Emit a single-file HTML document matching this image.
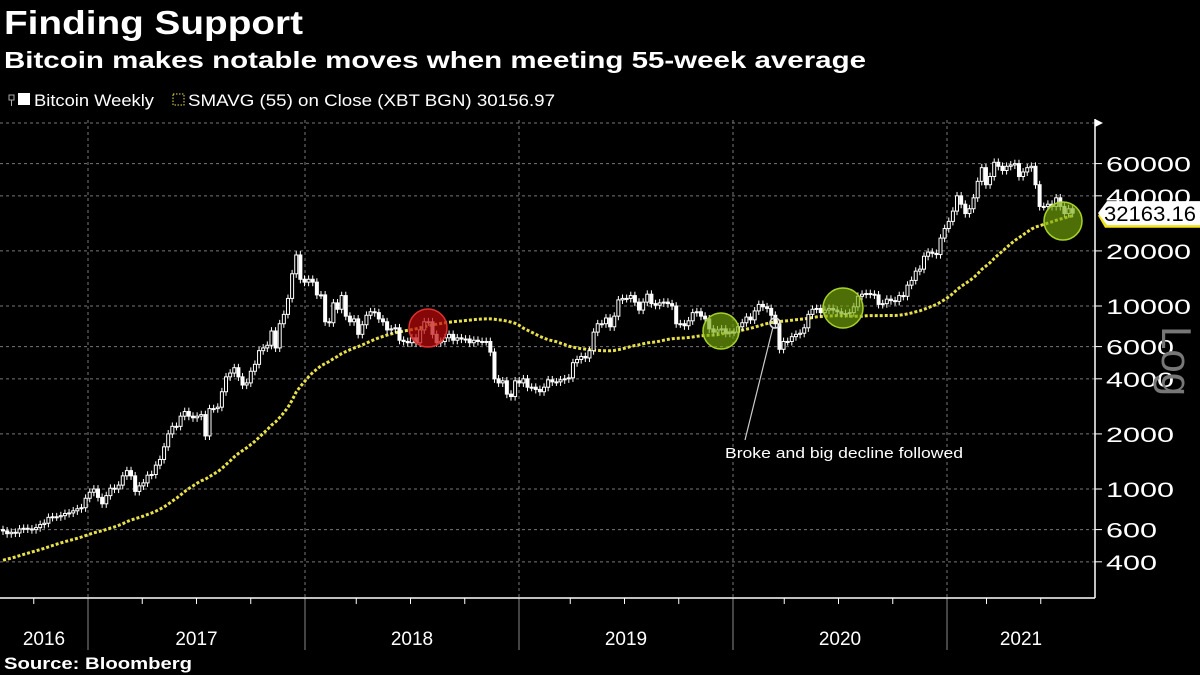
<!DOCTYPE html>
<html><head><meta charset="utf-8"><style>
body{margin:0;background:#000;width:1200px;height:675px;overflow:hidden;font-family:"Liberation Sans",sans-serif;color:#fff}
svg{position:absolute;left:0;top:0}
</style></head><body>
<svg id="c" width="1200" height="675" xmlns="http://www.w3.org/2000/svg">
<text x="4" y="34" font-size="33" font-weight="bold" fill="#fff" textLength="299" lengthAdjust="spacingAndGlyphs">Finding Support</text>
<text x="4" y="68" font-size="23" font-weight="bold" fill="#fff" textLength="862" lengthAdjust="spacingAndGlyphs">Bitcoin makes notable moves when meeting 55-week average</text>
<g>
<rect x="9" y="95" width="5" height="5" fill="none" stroke="#aaa" stroke-width="1"/><line x1="11.5" y1="100" x2="11.5" y2="106" stroke="#aaa"/>
<rect x="18" y="93" width="12" height="12" fill="#fff"/>
<text x="34" y="106" font-size="17" fill="#fff" textLength="120" lengthAdjust="spacingAndGlyphs">Bitcoin Weekly</text>
<rect x="173" y="94" width="11" height="11" fill="none" stroke="#e8e04a" stroke-dasharray="1.5,1.5"/>
<text x="188" y="106" font-size="17" fill="#fff" textLength="367" lengthAdjust="spacingAndGlyphs">SMAVG (55)  on Close (XBT BGN) 30156.97</text>
</g>
<g id="grid"></g><g id="sma"></g><g id="candles"></g><g id="circles"></g><g id="ann"></g><g id="axes"></g>
<text x="4" y="669" font-size="17" font-weight="bold" fill="#fff" textLength="188" lengthAdjust="spacingAndGlyphs">Source:  Bloomberg</text>
</svg>
<script>
const preCloses=[280,265,230,225,230,240,230,235,240,230,235,245,250,270,290,330,380,330,330,360,420,440,455,430,420,430,450,435,400,380,375,380,420,410,415,415,420,420,430,420,440,450,460,450,455,530,575,690,760,680,660,650,660,600];
const closes=[
590,570,580,575,605,610,605,600,615,640,650,700,705,705,715,735,740,760,780,790,890,960,
1000,900,830,920,1010,1000,1050,1180,1260,1180,970,1040,1080,1190,1200,1350,1450,1700,2000,2200,2200,2500,2650,2500,2450,2500,2550,1950,2750,2750,2800,3400,4100,4300,4600,4100,3700,3800,4400,4800,5700,5900,6100,7300,5900,8000,9000,11000,15000,19000,14000,13500,
14000,13500,11500,11500,8200,8100,10400,9600,11400,8800,8200,8500,7000,7900,8900,9300,9200,8500,8200,7400,7500,7600,6500,6400,6300,6700,6300,7400,8200,8200,7000,6300,6400,6700,7000,6500,6700,6600,6600,6300,6500,6400,6400,6400,5600,4000,3800,3900,3300,3200,3900,3800,
4000,3600,3600,3500,3400,3600,3950,3850,3850,3950,4000,4050,4900,5100,5300,5200,5700,7200,8000,8000,8600,7700,8800,10800,11000,11000,11400,10500,9500,10500,11600,10300,10100,10400,10500,10300,10000,8000,8000,7800,8300,9200,9300,8800,8500,7500,7200,7400,7500,7100,7200,7200,
7700,8100,8700,8400,9400,10200,9900,9700,8900,8000,5800,6400,6400,6800,7000,7100,7600,9000,9600,9700,9200,9500,9700,9500,9300,9100,9100,9200,9900,11300,11600,11700,11600,11500,10200,10300,10900,10700,10600,11400,11300,13000,13800,15500,15900,18700,19700,19400,19100,23500,26500,29000,
33000,40000,36000,32000,34000,39000,48000,57000,46000,51000,61000,58000,55000,58000,59000,60000,51000,54000,57000,58000,46000,35000,35000,36000,35000,39000,35000,32000,34000,32163.16];
const yTicks=[60000,40000,20000,10000,6000,4000,2000,1000,600,400];
const years=["2016","2017","2018","2019","2020","2021"];
const lastLabel="32163.16";

const NS="http://www.w3.org/2000/svg";
function mk(p,t,a){const e=document.createElementNS(NS,t);for(const k in a)e.setAttribute(k,a[k]);p.appendChild(e);return e;}
const yOf=v=>306-(Math.log10(v)-4)*183;
const W=4.13, x0=3;
const xOf=i=>x0+i*W;
const yearX=[0,88,305,519,733,947,1095];
const grid=document.getElementById('grid'),axes=document.getElementById('axes');
yTicks.forEach(t=>{const y=yOf(t);
 const l=mk(grid,'line',{x1:0,x2:1095,y1:y,y2:y,stroke:'#777','stroke-dasharray':'3,3','stroke-width':1});
 
 
 mk(axes,'line',{x1:1095,x2:1102,y1:y,y2:y,stroke:'#fff'});
 const tx=mk(axes,'text',{x:1106,y:y+8,'font-size':21,fill:'#fff',textLength:String(t).length*17,lengthAdjust:'spacingAndGlyphs'});tx.textContent=t;
 
 
});
mk(grid,'line',{x1:0,x2:1095,y1:123,y2:123,stroke:'#777','stroke-dasharray':'3,3'});
mk(axes,'polygon',{points:'1095,119 1103,123 1095,127',fill:'#fff'});
for(let k=1;k<6;k++){const x=yearX[k];
 mk(grid,'line',{x1:x,x2:x,y1:120,y2:598,stroke:'#777','stroke-dasharray':'3,3'});
 mk(axes,'line',{x1:x,x2:x,y1:598,y2:650,stroke:'#888'});}
for(let k=0;k<6;k++){for(let q=1;q<4;q++){const x=yearX[k+1]-(yearX[2]-yearX[1])*q/4; if(x>0&&x>yearX[k]) mk(axes,'line',{x1:x,x2:x,y1:598,y2:604,stroke:'#fff'});}
 const cx=k==0?44:(k==5?1021:(yearX[k]+yearX[k+1])/2);
 const t=mk(axes,'text',{x:cx,y:645,'font-size':19,fill:'#fff','text-anchor':'middle'});t.textContent=years[k];
 
 }
mk(axes,'line',{x1:1095,x2:1095,y1:119,y2:598,stroke:'#fff','stroke-width':1.5});
mk(axes,'line',{x1:0,x2:1095,y1:598,y2:598,stroke:'#fff','stroke-width':1.5});
const lg=mk(axes,'text',{x:0,y:0,'font-size':42,fill:'#777',transform:'translate(1162,326) rotate(90)'});lg.textContent='Log';



const all=preCloses.concat(closes);const n0=preCloses.length;let pts=[];let lastSma=0;
for(let i=0;i<closes.length;i++){const j=i+n0;let s=0,c=0;for(let k=Math.max(0,j-54);k<=j;k++){s+=all[k];c++;}lastSma=s/c;pts.push(xOf(i).toFixed(1)+','+yOf(lastSma).toFixed(1));}
const sl=mk(document.getElementById('sma'),'polyline',{points:pts.join(' '),fill:'none',stroke:'#e8e04a','stroke-width':3,'stroke-dasharray':'3,2'});



const cg=document.getElementById('candles');
let prev=preCloses[preCloses.length-1];
closes.forEach((c,i)=>{const o=prev;prev=c;const x=xOf(i);const hi=Math.max(o,c)*1.05,lo=Math.min(o,c)*0.95;
 const g=mk(cg,'g',{});
 
 
 mk(g,'line',{x1:x,x2:x,y1:yOf(hi),y2:yOf(lo),stroke:'#fff','stroke-width':1});
 const yt=yOf(Math.max(o,c)),yb=yOf(Math.min(o,c));
 mk(g,'rect',{x:x-1.5,y:yt,width:3,height:Math.max(1,yb-yt),fill:c>=o?'#000':'#fff',stroke:'#fff','stroke-width':1});
});
const ccg=document.getElementById('circles');
function circ(x,y,r,f,s,name){const c=mk(ccg,'circle',{cx:x,cy:y,r:r,fill:f,stroke:s,'stroke-width':1.5});}
circ(428,328,19,'rgba(190,10,10,0.7)','#e03030','red-highlight-2018');
circ(721,331,18,'rgba(120,170,10,0.65)','#a6d22a','green-highlight-2019');
circ(843,308,20,'rgba(120,170,10,0.65)','#a6d22a','green-highlight-2020');
circ(1063,221,19,'rgba(120,170,10,0.65)','#a6d22a','green-highlight-2021');
const an=document.getElementById('ann');
mk(an,'circle',{cx:775,cy:323,r:5,fill:'none',stroke:'#ddd','stroke-width':1.5});
mk(an,'line',{x1:773,y1:327,x2:745,y2:440,stroke:'#ccc','stroke-width':1.2});
const at=mk(an,'text',{x:725,y:458,'font-size':15,fill:'#fff',textLength:238,lengthAdjust:'spacingAndGlyphs'});at.textContent='Broke and big decline followed';


const ys=yOf(lastSma);
mk(an,'polygon',{points:`1098,${ys} 1105,${ys-10} 1200,${ys-10} 1200,${ys+12} 1105,${ys+12}`,fill:'#f2e21a'});
const yl=yOf(closes[closes.length-1]);
const lb=mk(an,'polygon',{points:`1098,${yl} 1107,${yl-12} 1200,${yl-12} 1200,${yl+12} 1107,${yl+12}`,fill:'#fff'});


const lt=mk(an,'text',{x:1104,y:yl+8,'font-size':21,fill:'#000',textLength:92,lengthAdjust:'spacingAndGlyphs'});lt.textContent=lastLabel;
</script>
</body></html>
